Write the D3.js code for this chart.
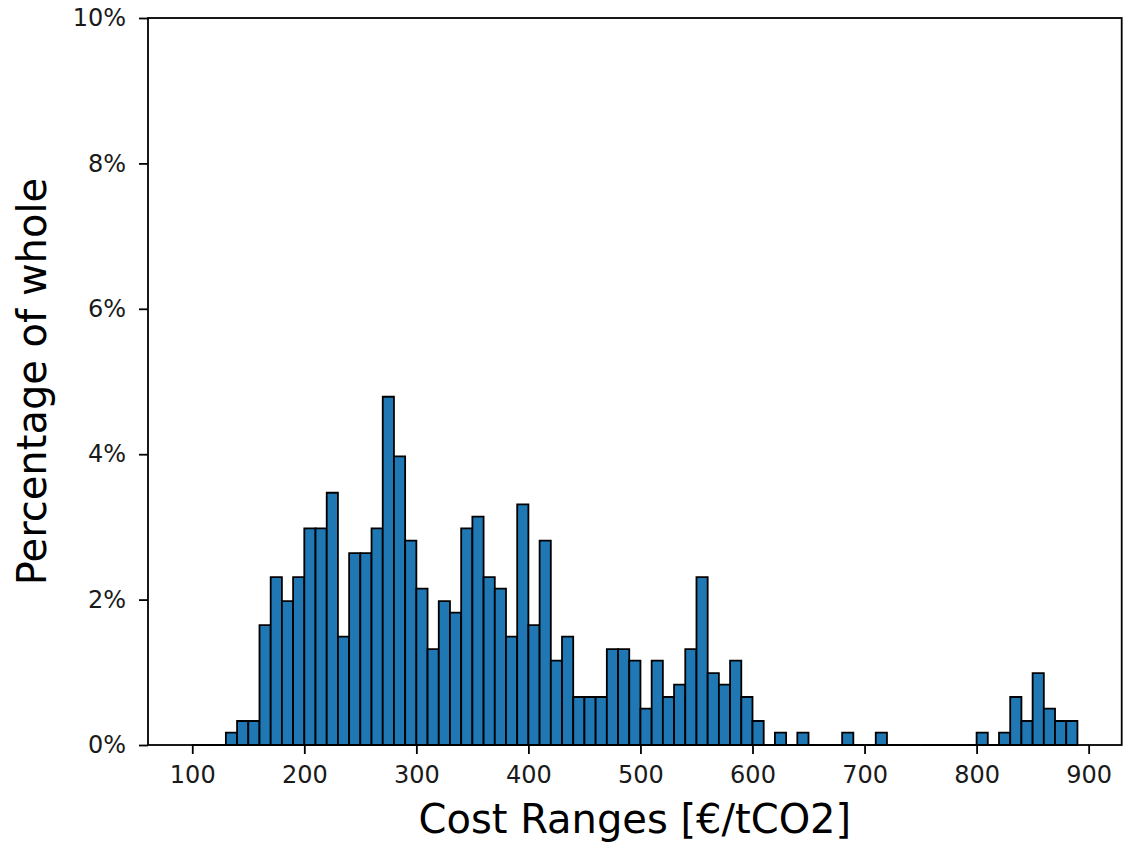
<!DOCTYPE html>
<html>
<head>
<meta charset="utf-8">
<script src="https://cdn.jsdelivr.net/npm/d3@7"></script>
<style>
  body { margin: 0; background: #fff; }
  svg { display: block; font-family: "DejaVu Sans", sans-serif; }
</style>
</head>
<body>
<svg id="chart" width="1124" height="844"></svg>
<script>
// bin starts (width 10) and share of whole, in %
var binStarts = [100, 110, 120, 130, 140, 150, 160, 170, 180, 190,
                 200, 210, 220, 230, 240, 250, 260, 270, 280, 290,
                 300, 310, 320, 330, 340, 350, 360, 370, 380, 390,
                 400, 410, 420, 430, 440, 450, 460, 470, 480, 490,
                 500, 510, 520, 530, 540, 550, 560, 570, 580, 590,
                 600, 610, 620, 630, 640, 650, 660, 670, 680, 690,
                 700, 710, 720, 730, 740, 750, 760, 770, 780, 790,
                 800, 810, 820, 830, 840, 850, 860, 870, 880];
var percent = [0, 0, 0, 0.17, 0.33, 0.33, 1.65, 2.31, 1.98, 2.31,
               2.98, 2.98, 3.47, 1.49, 2.64, 2.64, 2.98, 4.79, 3.97, 2.81,
               2.15, 1.32, 1.98, 1.82, 2.98, 3.14, 2.31, 2.15, 1.49, 3.31,
               1.65, 2.81, 1.16, 1.49, 0.66, 0.66, 0.66, 1.32, 1.32, 1.16,
               0.50, 1.16, 0.66, 0.83, 1.32, 2.31, 0.99, 0.83, 1.16, 0.66,
               0.33, 0, 0.17, 0, 0.17, 0, 0, 0, 0.17, 0,
               0, 0.17, 0, 0, 0, 0, 0, 0, 0, 0,
               0.17, 0, 0.17, 0.66, 0.33, 0.99, 0.50, 0.33, 0.33];
var binWidth = 10;
var xTicks = [100, 200, 300, 400, 500, 600, 700, 800, 900];
var yTicks = [0, 2, 4, 6, 8, 10];

// plot box (window.top is read-only, so use other names)
var plotL = 148, plotR = 1121.7, plotT = 18, plotB = 745;
var svg = d3.select("#chart");

var x = d3.scaleLinear().domain([60.5, 929.5]).range([plotL, plotR]);
var y = d3.scaleLinear().domain([0, 10]).range([plotB, plotT]);

// bars (paths so zero-height bins still show their edge)
svg.append("g").selectAll("path")
    .data(binStarts)
    .enter().append("path")
    .attr("d", function(d, i) {
        var x0 = x(d), x1 = x(d + binWidth), y0 = y(0), y1 = y(percent[i]);
        return "M" + x0 + "," + y0 + "V" + y1 + "H" + x1 + "V" + y0 + "Z";
    })
    .attr("fill", "#1f77b4")
    .attr("stroke", "#000")
    .attr("stroke-width", 1.8)
    .attr("stroke-linejoin", "miter");

// axes
var xAxis = svg.append("g")
    .attr("transform", "translate(0," + plotB + ")")
    .call(d3.axisBottom(x).tickValues(xTicks).tickSize(9).tickPadding(12));
var yAxis = svg.append("g")
    .attr("transform", "translate(" + plotL + ",0)")
    .call(d3.axisLeft(y).tickValues(yTicks).tickSize(9).tickPadding(13)
        .tickFormat(function(d) { return d + "%"; }));

[xAxis, yAxis].forEach(function(g) {
    g.attr("font-family", "DejaVu Sans, sans-serif").attr("font-size", 24);
    g.select(".domain").remove();
    g.selectAll(".tick line").attr("stroke", "#000").attr("stroke-width", 1.8);
    g.selectAll(".tick text").attr("fill", "#1a1a1a");
});

// frame
svg.append("rect")
    .attr("x", plotL).attr("y", plotT)
    .attr("width", plotR - plotL).attr("height", plotB - plotT)
    .attr("fill", "none")
    .attr("stroke", "#000")
    .attr("stroke-width", 1.8);

// labels
svg.append("text")
    .attr("x", (plotL + plotR) / 2)
    .attr("y", 833)
    .attr("text-anchor", "middle")
    .style("font-size", "40px")
    .text("Cost Ranges [€/tCO2]");

svg.append("text")
    .attr("transform", "translate(46," + ((plotT + plotB) / 2) + ") rotate(-90)")
    .attr("text-anchor", "middle")
    .style("font-size", "40px")
    .text("Percentage of whole");
</script>
</body>
</html>
